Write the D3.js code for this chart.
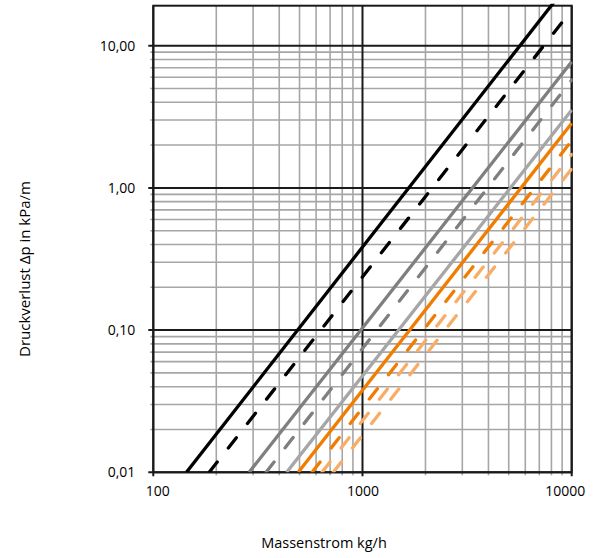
<!DOCTYPE html>
<html><head><meta charset="utf-8">
<script src="https://cdn.jsdelivr.net/npm/d3@7"></script>
<style>
html,body{margin:0;padding:0;background:#fff;}
text{font-family:"Open Sans",sans-serif;fill:#000;}
</style></head>
<body><svg id="c" width="593" height="558"></svg>
<script>
// Data: each series given as [massflow kg/h, pressure loss kPa/m] endpoints
const seriesNames = ["s1","s2","s3","s4","s5","s6","s7","s8","s9"];
const seriesStart = [[144,0.01],[185,0.01],[287,0.01],[346,0.01],[434,0.01],[493,0.01],[574,0.01],[640,0.01],[725,0.01]];
const seriesEnd   = [[10000,29.2],[10000,17.8],[10000,7.72],[10000,5.74],[10000,3.53],[10000,2.85],[10000,2.15],[10000,1.72],[10000,1.36]];
const seriesColor = ["#000000","#000000","#7f7f7f","#7f7f7f","#a6a6a6","#f07d00","#f07d00","#f8ad66","#f8ad66"];
const seriesDash  = [false,true,false,true,false,false,true,true,true];
const xTicks = [100,1000,10000];
const yTicks = [0.01,0.1,1,10];
const yTickLabels = ["0,01","0,10","1,00","10,00"];
const xTitle = "Massenstrom kg/h";
const yTitle = "Druckverlust Δp in kPa/m";

const svg = d3.select("#c");
const L=153.3, R=571.7, T=5.7, B=472.3;
const x = d3.scaleLog().domain([100,10000]).range([L,R]);
const y = d3.scaleLog().domain([0.01,19.1]).range([B,T]);

// minor values
const minorX=[], minorY=[];
for (let d=100; d<10000; d*=10) for (let k=2;k<=9;k++) minorX.push(d*k);
for (let d=0.01; d<15; d*=10) for (let k=2;k<=9;k++) if (d*k<19.1) minorY.push(d*k);

const grid = svg.append("g");
grid.selectAll(".mx").data(minorX).join("line")
  .attr("x1",d=>x(d)).attr("x2",d=>x(d)).attr("y1",T).attr("y2",B+3)
  .attr("stroke","#a6a6a6").attr("stroke-width",1.6);
grid.selectAll(".my").data(minorY).join("line")
  .attr("x1",L-3).attr("x2",R).attr("y1",d=>y(d)).attr("y2",d=>y(d))
  .attr("stroke","#a6a6a6").attr("stroke-width",1.6);
grid.selectAll(".Mx").data(xTicks).join("line")
  .attr("x1",d=>x(d)).attr("x2",d=>x(d)).attr("y1",T).attr("y2",B+4)
  .attr("stroke","#1a1a1a").attr("stroke-width",2);
grid.selectAll(".My").data(yTicks).join("line")
  .attr("x1",L-5).attr("x2",R).attr("y1",d=>y(d)).attr("y2",d=>y(d))
  .attr("stroke","#1a1a1a").attr("stroke-width",2);
// frame
svg.append("rect").attr("x",L).attr("y",T).attr("width",R-L).attr("height",B-T)
  .attr("fill","none").attr("stroke","#1a1a1a").attr("stroke-width",2);

// clip
svg.append("clipPath").attr("id","clip").append("rect")
  .attr("x",L).attr("y",T-2).attr("width",R-L+1).attr("height",B-T+2);

const line = d3.line().x(d=>x(d[0])).y(d=>y(d[1]));
const lines = svg.append("g").attr("clip-path","url(#clip)");
seriesNames.forEach((n,i)=>{
  lines.append("path").datum([seriesStart[i],seriesEnd[i]])
    .attr("d",line).attr("fill","none")
    .attr("stroke",seriesColor[i]).attr("stroke-width",3.3)
    .attr("stroke-linecap",seriesDash[i]?"round":"butt")
    .attr("stroke-dasharray",seriesDash[i]?"13,18":null);
});

// axes labels
const xAxis = d3.axisBottom(x).tickValues(xTicks).tickFormat(d3.format("d")).tickSize(0).tickPadding(14);
const gx = svg.append("g").attr("transform",`translate(0,${B})`).call(xAxis);
gx.select(".domain").remove();
gx.selectAll("text").style("font-size","14px").style("font-family","'Open Sans',sans-serif")
  .attr("dx",(d,i)=> i===0?4:(i===xTicks.length-1?-7:0));

const yAxis = d3.axisLeft(y).tickValues(yTicks).tickFormat((d,i)=>yTickLabels[i]).tickSize(0).tickPadding(18);
const gy = svg.append("g").attr("transform",`translate(${L},0)`).call(yAxis);
gy.select(".domain").remove();
gy.selectAll("text").style("font-size","14px").style("font-family","'Open Sans',sans-serif");

svg.append("text").attr("x",324).attr("y",548).attr("text-anchor","middle")
  .style("font-size","14.5px").text(xTitle);
svg.append("text").attr("transform","translate(30,269) rotate(-90)").attr("text-anchor","middle")
  .style("font-size","15px").text(yTitle);
</script></body></html>
